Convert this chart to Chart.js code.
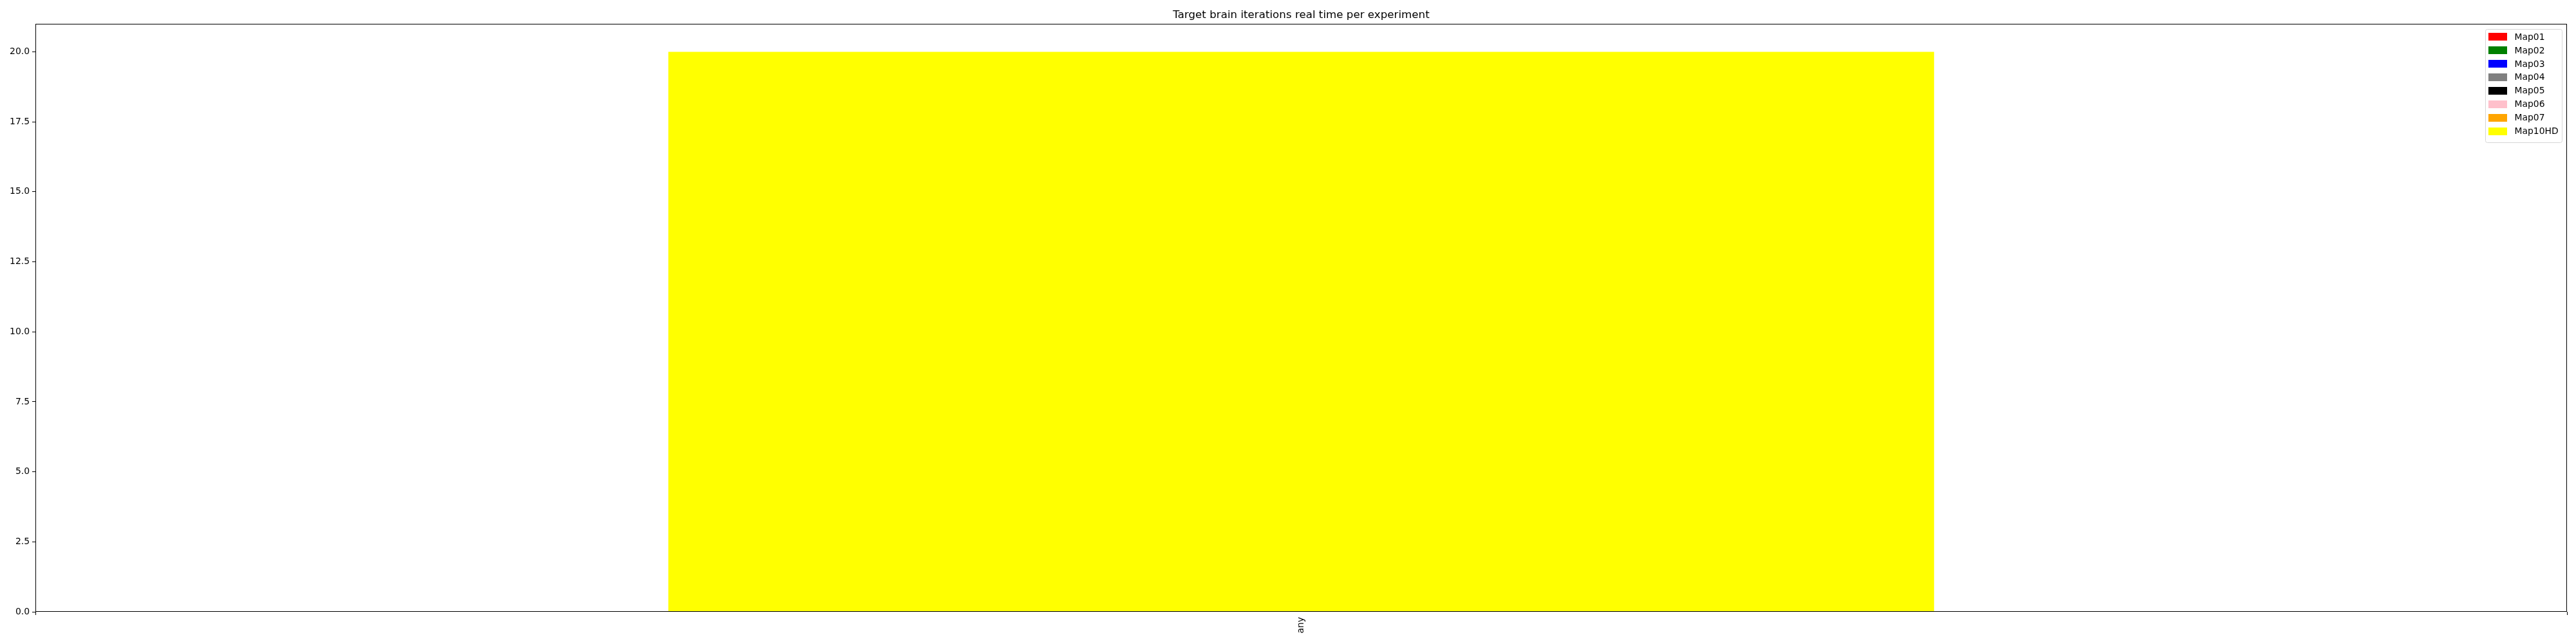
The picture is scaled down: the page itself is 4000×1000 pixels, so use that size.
<!DOCTYPE html>
<html>
<head>
<meta charset="utf-8">
<script src="https://cdn.jsdelivr.net/npm/chart.js@4.4.1/dist/chart.umd.min.js"></script>
<style>
  html, body { margin: 0; padding: 0; background: #fff; }
  canvas { display: block; }
</style>
</head>
<body>
<canvas id="c" width="4000" height="1000"></canvas>
<script>
const categories = ['any'];
const seriesNames = ['Map01', 'Map02', 'Map03', 'Map04', 'Map05', 'Map06', 'Map07', 'Map10HD'];
const map01 = [0];
const map02 = [0];
const map03 = [0];
const map04 = [0];
const map05 = [0];
const map06 = [0];
const map07 = [0];
const map10hd = [20];
const yTicks = [0, 2.5, 5, 7.5, 10, 12.5, 15, 17.5, 20];
const titleText = 'Target brain iterations real time per experiment';

const seriesValues = [map01, map02, map03, map04, map05, map06, map07, map10hd];
const seriesColors = ['#ff0000', '#008000', '#0000ff', '#808080', '#000000', '#ffc0cb', '#ffa500', '#ffff00'];
const FONT = '"DejaVu Sans", "Liberation Sans", sans-serif';

const framePlugin = {
  id: 'frame',
  afterDatasetsDraw(chart) {
    const { ctx, chartArea: a } = chart;
    ctx.save();
    ctx.strokeStyle = '#000';
    ctx.lineWidth = 1;
    const l = Math.round(a.left) + 0.5, r = Math.round(a.right) - 0.5;
    const t = Math.round(a.top) + 0.5, b = Math.round(a.bottom) - 0.5;
    ctx.strokeRect(l, t, r - l, b - t);
    ctx.restore();
  },
  afterDraw(chart) {
    const { ctx, chartArea: a } = chart;
    ctx.save();
    ctx.fillStyle = '#000';
    ctx.font = '16.7px ' + FONT;
    ctx.textAlign = 'center';
    ctx.textBaseline = 'alphabetic';
    ctx.fillText(titleText, (a.left + a.right) / 2, a.top - 9);
    ctx.font = '13.9px ' + FONT;
    const names = chart.data.datasets.map(d => d.label);
    let maxW = 0;
    names.forEach(n => { maxW = Math.max(maxW, ctx.measureText(n).width); });
    const patchW = 29, patchH = 12, gap = 12, padL = 4, padR = 6, rowH = 20.95;
    const boxW = Math.round(padL + patchW + gap + maxW + padR);
    const boxH = Math.round(names.length * rowH + 8);
    const bx = Math.round(a.right - 8 - boxW) + 0.5;
    const by = Math.round(a.top + 8) + 0.5;
    ctx.beginPath();
    const r = 3;
    ctx.moveTo(bx + r, by);
    ctx.lineTo(bx + boxW - r, by);
    ctx.quadraticCurveTo(bx + boxW, by, bx + boxW, by + r);
    ctx.lineTo(bx + boxW, by + boxH - r);
    ctx.quadraticCurveTo(bx + boxW, by + boxH, bx + boxW - r, by + boxH);
    ctx.lineTo(bx + r, by + boxH);
    ctx.quadraticCurveTo(bx, by + boxH, bx, by + boxH - r);
    ctx.lineTo(bx, by + r);
    ctx.quadraticCurveTo(bx, by, bx + r, by);
    ctx.closePath();
    ctx.fillStyle = 'rgba(255,255,255,0.8)';
    ctx.fill();
    ctx.strokeStyle = '#d6d6d6';
    ctx.lineWidth = 1;
    ctx.stroke();
    ctx.textAlign = 'left';
    ctx.textBaseline = 'middle';
    chart.data.datasets.forEach((d, i) => {
      const cy = by + 11.5 + i * rowH;
      ctx.fillStyle = d.backgroundColor;
      ctx.fillRect(Math.round(bx + padL), Math.round(cy - patchH / 2), patchW, patchH);
      ctx.fillStyle = '#000';
      ctx.fillText(d.label, bx + padL + patchW + gap, cy + 1);
    });
    ctx.restore();
  }
};

new Chart(document.getElementById('c'), {
  type: 'bar',
  data: {
    labels: categories,
    datasets: seriesNames.map((name, i) => ({
      label: name,
      data: seriesValues[i],
      backgroundColor: seriesColors[i],
      borderWidth: 0,
      categoryPercentage: 1.0,
      barPercentage: 0.5
    }))
  },
  options: {
    responsive: false,
    animation: false,
    devicePixelRatio: 1,
    layout: { padding: { left: 0, right: 14, top: 37, bottom: 0 } },
    plugins: {
      legend: { display: false },
      title: { display: false },
      tooltip: { enabled: false }
    },
    scales: {
      x: {
        stacked: true,
        grid: { display: true, drawOnChartArea: false, drawTicks: true, tickLength: 5, color: '#000', lineWidth: 1 },
        border: { display: false },
        ticks: {
          color: '#000',
          font: { family: FONT, size: 13.9 },
          maxRotation: 90,
          minRotation: 90,
          padding: 3
        },
        afterFit(scale) { scale.height = 50; }
      },
      y: {
        stacked: true,
        min: 0,
        max: 21,
        grid: { display: true, drawOnChartArea: false, drawTicks: true, tickLength: 5, color: '#000', lineWidth: 1 },
        border: { display: false },
        afterBuildTicks(scale) { scale.ticks = yTicks.map(v => ({ value: v })); },
        ticks: {
          color: '#000',
          font: { family: FONT, size: 13.9 },
          padding: 4,
          callback: v => Number(v).toFixed(1)
        },
        afterFit(scale) { scale.width = 55; }
      }
    }
  },
  plugins: [framePlugin]
});
</script>
</body>
</html>
